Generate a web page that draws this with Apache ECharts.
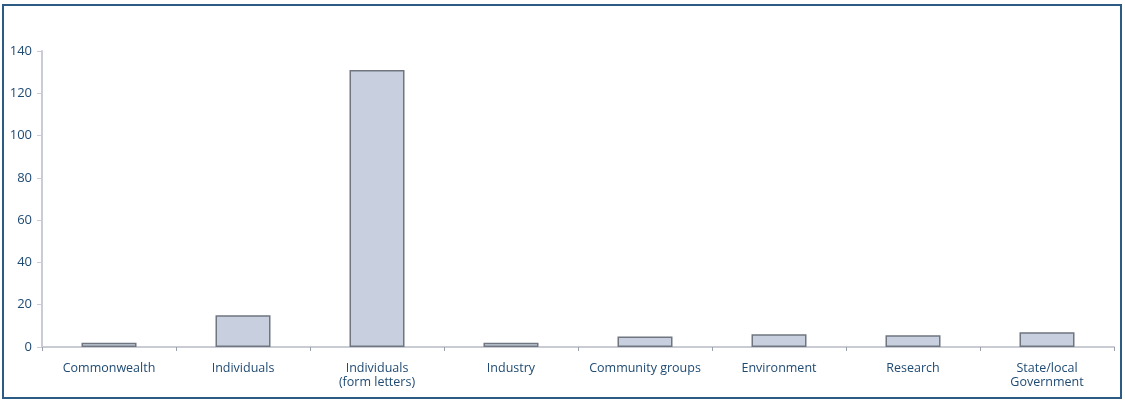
<!DOCTYPE html>
<html>
<head>
<meta charset="utf-8">
<script src="https://cdn.jsdelivr.net/npm/echarts@6/dist/echarts.min.js"></script>
<style>
  body { margin: 0; background: #fff; }
  #chart { width: 1125px; height: 401px; }
</style>
</head>
<body>
<div id="chart"></div>
<script>
let categories = [
    'Commonwealth', 'Individuals', 'Individuals\n(form letters)', 'Industry',
    'Community groups', 'Environment', 'Research', 'State/local\nGovernment'
];
let submissions = [2, 15, 131, 2, 5, 6, 5.5, 7];
let yTicks = { min: 0, max: 140, interval: 20 };

let textColor = '#1f4a72';
let axisGray = '#c9ccd4';

let chart = echarts.init(document.getElementById('chart'));

let option = {
    animation: false,
    textStyle: {
        fontFamily: 'Open Sans, Lato, sans-serif'
    },
    graphic: [
        {
            type: 'rect',
            shape: { x: 3, y: 5, width: 1118, height: 393 },
            style: { fill: 'none', stroke: '#2c5b83', lineWidth: 2 }
        }
    ],
    grid: {
        left: 42,
        right: 11,
        top: 51,
        bottom: 54
    },
    xAxis: {
        type: 'category',
        data: categories,
        axisLine: { lineStyle: { color: axisGray, width: 2 } },
        axisTick: { show: true, length: 4, lineStyle: { color: '#9aa0aa' } },
        axisLabel: {
            color: textColor,
            fontSize: 12.5,
            margin: 14,
            lineHeight: 14,
            interval: 0
        }
    },
    yAxis: {
        type: 'value',
        min: yTicks.min,
        max: yTicks.max,
        interval: yTicks.interval,
        axisLine: { show: true, lineStyle: { color: axisGray, width: 2 } },
        axisTick: { show: true, length: 5, lineStyle: { color: axisGray } },
        splitLine: { show: false },
        axisLabel: {
            color: textColor,
            fontSize: 13,
            margin: 10
        }
    },
    series: [
        {
            name: 'Submissions',
            type: 'bar',
            data: submissions,
            barWidth: 55,
            itemStyle: {
                color: '#c8d0df',
                borderColor: '#6f7680',
                borderWidth: 1.5
            }
        }
    ]
};

chart.setOption(option);
</script>
</body>
</html>
